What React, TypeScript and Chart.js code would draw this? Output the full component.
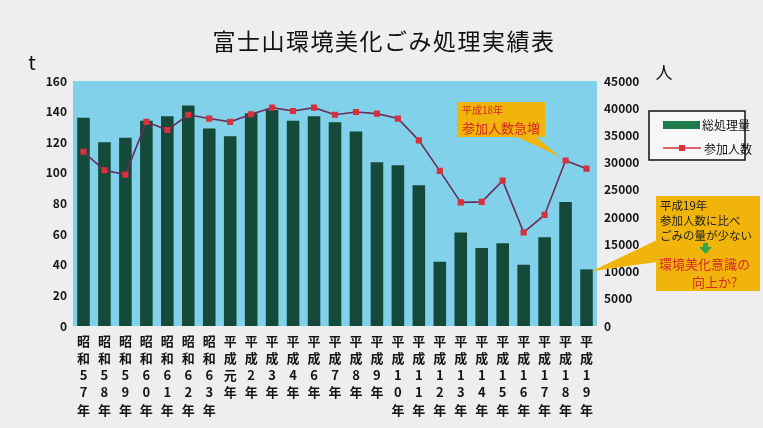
import React, { useEffect, useRef } from 'react';
import { Chart, registerables } from 'chart.js';

Chart.register(...registerables);

const years = [
  '昭和57年', '昭和58年', '昭和59年', '昭和60年', '昭和61年', '昭和62年', '昭和63年',
  '平成元年', '平成2年', '平成3年', '平成4年', '平成6年', '平成7年', '平成8年', '平成9年',
  '平成10年', '平成11年', '平成12年', '平成13年', '平成14年', '平成15年', '平成16年',
  '平成17年', '平成18年', '平成19年',
];
// 総処理量 (t)
const totalWaste = [136, 120, 123, 134, 137, 144, 129, 124, 139, 141, 134, 137, 133, 127, 107, 105, 92, 42, 61, 51, 54, 40, 58, 81, 37];
// 参加人数 (人)
const participants = [32000, 28600, 27800, 37500, 36000, 38800, 38100, 37500, 38900, 40100, 39500, 40100, 38800, 39300, 39000, 38100, 34100, 28500, 22700, 22800, 26700, 17200, 20400, 30400, 28900];

const title = '富士山環境美化ごみ処理実績表';
const leftUnit = 't';
const rightUnit = '人';
const legendLabels = ['総処理量', '参加人数'];
const note1 = ['平成18年', '参加人数急増'];
const note2Black = ['平成19年', '参加人数に比べ', 'ごみの量が少ない'];
const note2Red = ['環境美化意識の', '向上か?'];

const FONT = '"Noto Sans CJK JP", "Noto Sans", sans-serif';
const PAGE_BG = '#eeeef0';
const PLOT_BG = '#82d1ea';
const BAR = '#15493a';
const LINE = '#6a2d5a';
const MARK = '#d6313c';
const NOTE = '#f0b40a';

const decorPlugin = {
  id: 'decor',
  beforeDraw(chart: any) {
    const { ctx, chartArea: a, width, height } = chart;
    ctx.save();
    ctx.fillStyle = PAGE_BG;
    ctx.fillRect(0, 0, width, height);
    ctx.fillStyle = PLOT_BG;
    ctx.fillRect(a.left, a.top, a.right - a.left, a.bottom - a.top);
    ctx.fillStyle = '#111';
    ctx.textBaseline = 'middle';
    ctx.textAlign = 'center';
    ctx.font = `400 23px ${FONT}`;
    (ctx as any).letterSpacing = '1.5px';
    ctx.fillText(title, 384, 41);
    (ctx as any).letterSpacing = '0px';
    ctx.font = `400 20px ${FONT}`;
    ctx.fillText(leftUnit, 32, 62);
    ctx.font = `400 17px ${FONT}`;
    ctx.fillText(rightUnit, 664, 73);
    ctx.restore();
  },
  afterDraw(chart: any) {
    const { ctx } = chart;
    ctx.save();
    // legend
    ctx.fillStyle = '#f7f7f7';
    ctx.fillRect(649, 111, 96, 49);
    ctx.strokeStyle = '#111';
    ctx.lineWidth = 1.5;
    ctx.strokeRect(649, 111, 96, 49);
    ctx.fillStyle = '#1f7a4c';
    ctx.fillRect(663, 121, 37, 8);
    ctx.strokeStyle = MARK;
    ctx.lineWidth = 1.5;
    ctx.beginPath();
    ctx.moveTo(663, 148);
    ctx.lineTo(701, 148);
    ctx.stroke();
    ctx.fillStyle = MARK;
    ctx.fillRect(679, 145, 6, 6);
    ctx.fillStyle = '#111';
    ctx.font = `400 12px ${FONT}`;
    ctx.textBaseline = 'middle';
    ctx.textAlign = 'left';
    ctx.fillText(legendLabels[0], 702, 125);
    ctx.fillText(legendLabels[1], 704, 149);

    // callout 1 -> 平成18年 point (line dataset is index 0)
    const p = chart.getDatasetMeta(0).data[23];
    ctx.fillStyle = NOTE;
    ctx.beginPath();
    ctx.moveTo(515, 136);
    ctx.lineTo(p.x - 6, p.y - 4);
    ctx.lineTo(535, 136);
    ctx.closePath();
    ctx.fill();
    ctx.fillRect(457, 102, 88, 35);
    ctx.fillStyle = '#d8262a';
    ctx.font = `400 10px ${FONT}`;
    ctx.fillText(note1[0], 462, 110);
    ctx.font = `400 13px ${FONT}`;
    ctx.fillText(note1[1], 462, 128);

    // callout 2 -> 平成19年 bar (bar dataset is index 1)
    const b = chart.getDatasetMeta(1).data[24];
    ctx.fillStyle = NOTE;
    ctx.beginPath();
    ctx.moveTo(657, 240);
    ctx.lineTo(b.x + 5, b.y + 2);
    ctx.lineTo(657, 262);
    ctx.closePath();
    ctx.fill();
    ctx.fillRect(656, 196, 104, 95);
    ctx.fillStyle = '#222';
    ctx.font = `400 11.5px ${FONT}`;
    note2Black.forEach((t, i) => ctx.fillText(t, 660, 206 + i * 15));
    // green arrow
    ctx.fillStyle = '#2aa84a';
    ctx.fillRect(703, 243, 5, 5);
    ctx.beginPath();
    ctx.moveTo(699, 247);
    ctx.lineTo(712, 247);
    ctx.lineTo(705.5, 254);
    ctx.closePath();
    ctx.fill();
    ctx.fillStyle = '#d8262a';
    ctx.font = `400 13px ${FONT}`;
    ctx.fillText(note2Red[0], 659, 264);
    ctx.fillText(note2Red[1], 692, 282);
    ctx.restore();
  },
};

export default function App() {
  const ref = useRef<HTMLCanvasElement>(null);
  useEffect(() => {
    document.body.style.margin = '0';
    const chart = new Chart(ref.current!, {
      type: 'bar',
      data: {
        labels: years.map((s) => s.split('')),
        datasets: [
          {
            type: 'line',
            label: legendLabels[1],
            data: participants,
            yAxisID: 'y1',
            borderColor: LINE,
            borderWidth: 1.6,
            pointStyle: 'rect',
            pointRadius: 3.2,
            pointBackgroundColor: MARK,
            pointBorderColor: MARK,
            tension: 0,
            order: 1,
          } as any,
          {
            type: 'bar',
            label: legendLabels[0],
            data: totalWaste,
            yAxisID: 'y',
            backgroundColor: BAR,
            barPercentage: 0.6,
            categoryPercentage: 1,
            order: 2,
          },
        ],
      },
      options: {
        responsive: false,
        animation: false,
        layout: { padding: { top: 81, left: 0, right: 0, bottom: 0 } },
        plugins: { legend: { display: false }, tooltip: { enabled: false } },
        scales: {
          x: {
            grid: { display: false, drawTicks: false },
            border: { display: false },
            ticks: {
              color: '#151515',
              autoSkip: false,
              maxRotation: 0,
              padding: 6,
              font: { family: FONT, size: 13, weight: 'bold', lineHeight: 1.33 },
            },
            afterFit: (s: any) => { s.height = 102; },
          },
          y: {
            position: 'left',
            min: 0,
            max: 160,
            grid: { display: false, drawTicks: false },
            border: { display: false },
            ticks: { stepSize: 20, color: '#151515', padding: 6, font: { family: FONT, size: 12, weight: 'bold' } },
            afterFit: (s: any) => { s.width = 73; },
          },
          y1: {
            position: 'right',
            min: 0,
            max: 45000,
            grid: { display: false, drawTicks: false },
            border: { display: false },
            ticks: {
              stepSize: 5000,
              color: '#151515',
              padding: 7,
              font: { family: FONT, size: 12, weight: 'bold' },
              callback: (v: any) => String(v),
            },
            afterFit: (s: any) => { s.width = 166; },
          },
        },
      } as any,
      plugins: [decorPlugin],
    });
    return () => chart.destroy();
  }, []);
  return <canvas ref={ref} width={763} height={428} style={{ display: 'block' }} />;
}
